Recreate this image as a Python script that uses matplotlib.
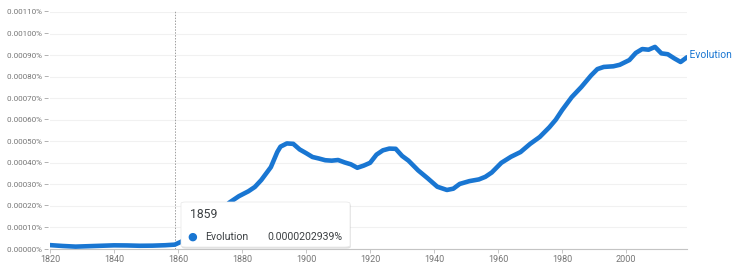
import matplotlib

matplotlib.use("Agg")
import matplotlib.pyplot as plt
from matplotlib.patches import FancyBboxPatch
from matplotlib.ticker import FixedLocator

plt.rcParams["font.family"] = ["Roboto", "DejaVu Sans"]

# "Evolution" frequency in percent
years = [
    1820, 1824, 1828, 1832, 1836, 1840, 1844, 1848, 1852, 1856, 1859, 1861,
    1864, 1867, 1870, 1873, 1876, 1879, 1882, 1884, 1886, 1888, 1889, 1891,
    1892, 1894, 1896, 1898, 1900, 1902, 1904, 1906, 1908, 1910, 1912, 1914,
    1916, 1918, 1920, 1922, 1924, 1926, 1928, 1930, 1932, 1935, 1938, 1941,
    1944, 1946, 1948, 1951, 1954, 1956, 1958, 1961, 1964, 1967, 1970, 1973,
    1976, 1978, 1980, 1983, 1986, 1989, 1991, 1993, 1996, 1998, 2001, 2003,
    2005, 2007, 2009, 2011, 2013, 2015, 2017, 2019,
]
evolution = [
    0.0000180, 0.0000140, 0.0000110, 0.0000130, 0.0000150, 0.0000170,
    0.0000165, 0.0000150, 0.0000155, 0.0000175, 0.0000203, 0.0000340,
    0.0000600, 0.0000900, 0.000130, 0.000170, 0.000215, 0.000245,
    0.000268, 0.000288, 0.000320, 0.000360, 0.000380, 0.000450,
    0.000475, 0.000490, 0.000488, 0.000462, 0.000445, 0.000427,
    0.000420, 0.000412, 0.000410, 0.000413, 0.000402, 0.000393,
    0.000377, 0.000387, 0.000400, 0.000438, 0.000458, 0.000466,
    0.000465, 0.000432, 0.000410, 0.000365, 0.000328, 0.000289,
    0.000274, 0.000280, 0.000302, 0.000315, 0.000323, 0.000335,
    0.000355, 0.000400, 0.000428, 0.000450, 0.000488, 0.000520,
    0.000565, 0.000600, 0.000645, 0.000705, 0.000752, 0.000805,
    0.000835, 0.000845, 0.000848, 0.000855, 0.000877, 0.000910,
    0.000928, 0.000925, 0.000938, 0.000908, 0.000904, 0.000885,
    0.000868, 0.000890,
]
y_ticks = [i * 0.0001 for i in range(12)]
x_ticks = [1820, 1840, 1860, 1880, 1900, 1920, 1940, 1960, 1980, 2000]
hover_year = 1859
hover_value = "0.0000202939%"
series_name = "Evolution"

blue = "#1976d2"
grey_text = "#757575"

fig = plt.figure(figsize=(7.32, 2.63), dpi=100)
ax = fig.add_axes([50 / 732, 1 - 249 / 263, 637 / 732, 237 / 263])

ax.plot(years, evolution, color=blue, linewidth=3.3, solid_capstyle="round",
        solid_joinstyle="round", zorder=3)
ax.set_xlim(1820, 2019)
ax.set_ylim(0, 0.0011)

ax.yaxis.set_major_locator(FixedLocator(y_ticks))
ax.set_yticklabels([f"{v:.5f}% \u2013" for v in y_ticks])
ax.xaxis.set_major_locator(FixedLocator(x_ticks))
ax.set_xticklabels([str(x) for x in x_ticks])
ax.tick_params(axis="y", length=0, pad=0.5, labelsize=5.8, labelcolor=grey_text)
ax.tick_params(axis="x", length=3, width=0.6, color="#bdbdbd", pad=1.5,
               labelsize=6.5, labelcolor=grey_text)
ax.grid(axis="y", color="#f1f1f1", linewidth=0.8, zorder=0)
for side in ["top", "right", "left"]:
    ax.spines[side].set_visible(False)
ax.spines["bottom"].set_color("#c4c4c4")
ax.spines["bottom"].set_linewidth(0.8)

ax.axvline(hover_year, ymin=0, ymax=1.01, color="#9e9e9e", linewidth=0.7,
           linestyle=(0, (1.5, 1.5)), clip_on=False, zorder=2)

ax.text(2019, evolution[-1] + 0.00001, " " + series_name, color=blue,
        fontsize=7.4, va="center", ha="left")

# hover tooltip
x0, y0, w, h = 181 / 732, 1 - 247 / 263, 169 / 732, 45 / 263
shadow = FancyBboxPatch((x0 + 0.001, y0 - 0.006), w, h,
                        boxstyle="round,pad=0,rounding_size=0.006",
                        transform=fig.transFigure, facecolor="#000000",
                        alpha=0.12, edgecolor="none", zorder=5)
box = FancyBboxPatch((x0, y0), w, h,
                     boxstyle="round,pad=0,rounding_size=0.006",
                     transform=fig.transFigure, facecolor="white",
                     edgecolor="#e6e6e6", linewidth=0.5, zorder=6)
fig.patches.extend([shadow, box])
fig.text(190 / 732, 1 - 214 / 263, str(hover_year), fontsize=8.8,
         color="#3c4043", va="center", zorder=7)
fig.text(192.5 / 732, 1 - 236.5 / 263, "\u25cf", fontsize=8, color=blue,
         va="center", ha="center", zorder=7)
fig.text(205 / 732, 1 - 236.5 / 263, series_name, fontsize=7.6,
         color="#3c4043", va="center", zorder=7)
fig.text(342 / 732, 1 - 236.5 / 263, hover_value, fontsize=7.6,
         color="#3c4043", va="center", ha="right", zorder=7)

fig.savefig("out.png", dpi=100)
